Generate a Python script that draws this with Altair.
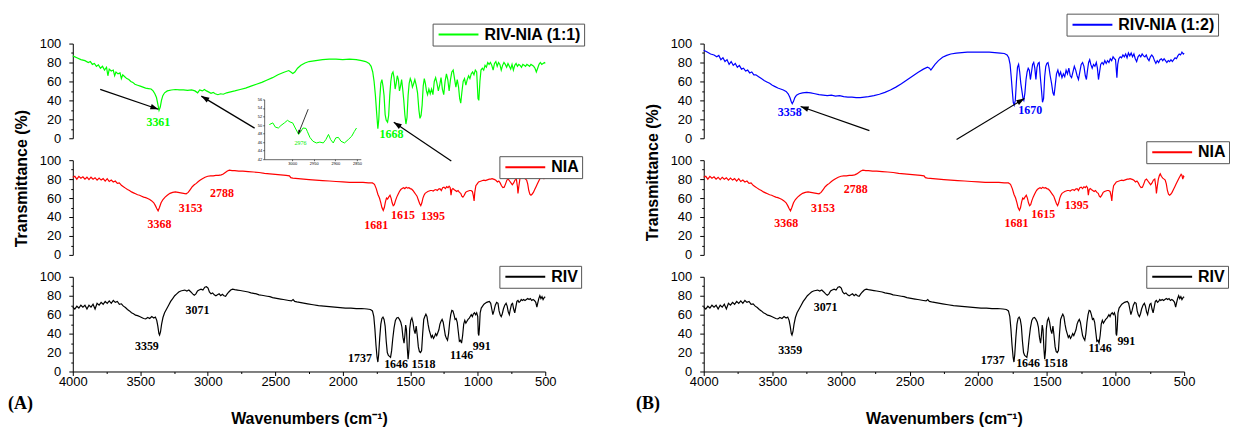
import math
import altair as alt
import pandas as pd

# ---------------- data (wavenumber cm-1, transmittance %) ----------------
RIV_NIA_11 = [
    (4000, 87), (3970, 85), (3940, 83), (3910, 82), (3885, 80), (3870, 81), (3855, 78), (3840, 79),
    (3825, 76), (3810, 77.5), (3795, 74), (3780, 76), (3765, 72), (3750, 75), (3740, 66), (3730, 73),
    (3715, 71), (3700, 72), (3690, 66), (3680, 70), (3665, 68), (3650, 69), (3640, 63), (3630, 67),
    (3615, 65), (3600, 63), (3585, 62), (3570, 60), (3555, 59), (3540, 57), (3520, 56), (3500, 55),
    (3480, 54), (3460, 53), (3440, 52.5), (3420, 52), (3405, 50), (3392, 47), (3380, 43), (3370, 36),
    (3361, 29.5), (3352, 33), (3343, 40), (3333, 45), (3320, 48), (3300, 50), (3270, 51), (3240, 51.5),
    (3210, 51), (3180, 51), (3150, 50.5), (3120, 51), (3095, 50), (3075, 48), (3060, 51), (3040, 50),
    (3025, 51.5), (3010, 50), (2995, 49), (2976, 47.5), (2960, 48.5), (2945, 47), (2925, 46), (2905, 47),
    (2885, 46.5), (2860, 48), (2830, 49), (2800, 50), (2760, 51.5), (2720, 53), (2680, 55), (2640, 57),
    (2600, 59), (2560, 61.5), (2520, 64), (2480, 67), (2440, 69.5), (2400, 71.5), (2385, 70), (2370, 68.5),
    (2355, 70), (2335, 74), (2310, 77), (2280, 79.5), (2250, 81), (2200, 82), (2150, 83), (2100, 83.5),
    (2050, 83.5), (2000, 83), (1950, 83.5), (1900, 83), (1860, 82), (1830, 81), (1805, 79), (1790, 76),
    (1778, 70), (1768, 60), (1758, 45), (1748, 25), (1740, 10), (1733, 20), (1726, 42), (1718, 58),
    (1710, 62), (1702, 55), (1694, 45), (1686, 25), (1678, 19), (1668, 17), (1660, 24), (1652, 45),
    (1644, 60), (1636, 68), (1628, 70), (1620, 64), (1612, 52), (1604, 58), (1596, 66), (1588, 62),
    (1580, 50), (1572, 55), (1564, 62), (1556, 52), (1548, 40), (1540, 25), (1532, 15), (1524, 22),
    (1516, 45), (1508, 58), (1500, 63), (1492, 60), (1484, 54), (1476, 57), (1466, 62), (1456, 56),
    (1446, 48), (1436, 30), (1428, 21), (1420, 24), (1412, 35), (1404, 55), (1396, 63), (1388, 58),
    (1380, 50), (1372, 46), (1362, 52), (1352, 47), (1342, 52), (1332, 46), (1322, 60), (1312, 64),
    (1302, 58), (1292, 50), (1282, 56), (1272, 64), (1262, 52), (1252, 46), (1242, 60), (1232, 68),
    (1222, 62), (1212, 50), (1202, 62), (1192, 70), (1182, 72), (1172, 63), (1162, 54), (1152, 62),
    (1142, 54), (1134, 42), (1126, 37), (1118, 48), (1108, 60), (1098, 63), (1088, 56), (1078, 62),
    (1068, 66), (1058, 63), (1048, 68), (1038, 70), (1028, 67), (1018, 72), (1008, 70), (998, 42),
    (992, 40), (984, 60), (976, 72), (966, 74), (956, 72), (946, 77), (936, 75), (926, 80), (916, 78),
    (906, 80), (896, 77), (886, 72), (876, 79), (866, 81), (856, 76), (846, 80), (836, 78), (826, 72),
    (816, 77), (806, 80), (796, 78), (786, 75), (776, 79), (766, 76), (756, 73), (746, 78), (736, 72),
    (726, 77), (716, 79), (706, 76), (696, 78), (686, 77), (676, 75), (666, 78), (656, 77), (646, 76),
    (636, 78), (626, 77), (616, 76), (606, 78), (596, 77), (586, 76), (576, 74), (566, 70), (556, 74),
    (546, 78), (536, 80), (526, 78), (516, 79), (506, 80), (500, 79),
]

RIV_NIA_12 = [
    (4000, 93), (3975, 91), (3950, 89), (3925, 88), (3905, 86), (3890, 87.5), (3875, 83), (3860, 85),
    (3845, 81), (3830, 83), (3815, 78), (3800, 81), (3785, 77), (3770, 79), (3755, 75), (3740, 77),
    (3725, 73), (3710, 74), (3695, 71), (3680, 72), (3665, 69), (3650, 70), (3635, 67), (3620, 67),
    (3600, 65), (3580, 63), (3560, 61), (3540, 59.5), (3520, 58), (3500, 56), (3480, 54.5), (3460, 53),
    (3440, 52), (3420, 51), (3400, 49.5), (3385, 47), (3372, 43), (3362, 38.5), (3355, 36.5), (3346, 39),
    (3336, 43), (3324, 45.5), (3305, 47), (3280, 48), (3250, 48.5), (3220, 48), (3190, 47), (3160, 46),
    (3130, 45.5), (3100, 45), (3070, 45.5), (3040, 44.5), (3010, 45), (2980, 44), (2950, 43.5), (2920, 43.5),
    (2890, 43), (2860, 43), (2830, 43.5), (2800, 44), (2760, 45), (2720, 46.5), (2680, 48.5), (2640, 51),
    (2600, 54), (2560, 57.5), (2520, 61.5), (2480, 65.5), (2440, 69.5), (2400, 73), (2370, 75), (2355, 74),
    (2345, 72), (2335, 74), (2315, 78), (2290, 82), (2260, 85.5), (2230, 87.5), (2200, 89), (2160, 90),
    (2120, 90.5), (2080, 91), (2040, 91), (2000, 91), (1960, 91), (1920, 91), (1880, 90.5), (1840, 90),
    (1810, 89.5), (1790, 88), (1778, 85), (1768, 78), (1760, 65), (1752, 50), (1745, 38), (1738, 35),
    (1730, 40), (1722, 60), (1714, 75), (1706, 78), (1698, 70), (1690, 58), (1682, 50), (1674, 42),
    (1668, 40), (1660, 48), (1652, 62), (1644, 70), (1636, 74), (1628, 72), (1620, 62), (1612, 70),
    (1604, 78), (1596, 80), (1588, 74), (1580, 62), (1572, 75), (1564, 79), (1556, 80), (1548, 65),
    (1540, 52), (1532, 38), (1524, 42), (1516, 65), (1508, 76), (1500, 79), (1492, 80), (1484, 74),
    (1476, 66), (1466, 58), (1456, 48), (1448, 45), (1440, 55), (1430, 68), (1420, 72), (1410, 66),
    (1400, 70), (1390, 64), (1380, 68), (1370, 65), (1360, 72), (1350, 68), (1340, 74), (1330, 66),
    (1320, 64), (1310, 70), (1300, 76), (1290, 72), (1280, 66), (1270, 62), (1260, 70), (1250, 78),
    (1240, 80), (1230, 76), (1220, 66), (1212, 62), (1204, 72), (1196, 80), (1188, 83), (1180, 78),
    (1170, 74), (1160, 78), (1150, 76), (1140, 80), (1132, 74), (1124, 62), (1116, 70), (1108, 78),
    (1098, 80), (1088, 78), (1078, 82), (1068, 79), (1058, 82), (1048, 80), (1038, 84), (1028, 82),
    (1018, 86), (1008, 84), (1000, 83), (994, 72), (990, 64), (984, 78), (976, 84), (966, 86), (956, 85),
    (946, 88), (936, 86), (926, 89), (916, 85), (906, 90), (896, 87), (886, 90), (876, 86), (866, 89),
    (856, 84), (846, 81), (836, 86), (826, 88), (816, 86), (806, 89), (796, 87), (786, 86), (776, 88),
    (766, 84), (756, 82), (746, 86), (736, 88), (726, 86), (716, 82), (706, 79), (696, 82), (686, 80),
    (676, 83), (666, 84), (656, 82), (646, 84), (636, 82), (626, 80), (616, 82), (606, 81), (596, 83),
    (586, 81), (576, 83), (566, 85), (556, 84), (546, 87), (536, 89), (526, 88), (516, 91), (506, 89),
    (500, 90),
]

NIA = [
    (4000, 82), (3985, 83), (3970, 80), (3955, 83), (3940, 81), (3925, 82.5), (3910, 80), (3895, 82),
    (3880, 79.5), (3865, 82), (3850, 80), (3835, 81.5), (3820, 79), (3805, 81), (3790, 79), (3775, 80.5),
    (3760, 78), (3745, 80.5), (3730, 77.5), (3715, 79), (3700, 77), (3685, 78), (3670, 75.5), (3655, 76),
    (3640, 73.5), (3625, 72), (3610, 70.5), (3595, 69), (3580, 68), (3565, 66.5), (3550, 65.5), (3535, 64.5),
    (3520, 63.5), (3505, 63), (3490, 62), (3475, 61), (3460, 60.5), (3445, 59.5), (3430, 58.5), (3415, 57),
    (3400, 55), (3388, 52), (3378, 49), (3368, 46.5), (3358, 50), (3346, 55), (3332, 58.5), (3316, 61),
    (3300, 63), (3280, 65), (3260, 66), (3240, 66.5), (3220, 66), (3200, 65.5), (3180, 65), (3160, 64.5),
    (3145, 66), (3130, 69), (3115, 72), (3100, 74), (3085, 75.5), (3070, 77.5), (3055, 79), (3040, 80.5),
    (3020, 82), (3000, 83), (2980, 83.5), (2960, 83.5), (2940, 84), (2920, 84), (2900, 84.5), (2885, 85.5),
    (2870, 87), (2855, 88.5), (2840, 89.5), (2820, 89), (2800, 89), (2770, 88.5), (2740, 88.5), (2700, 88),
    (2660, 87.5), (2620, 87), (2580, 86), (2540, 85.5), (2500, 85), (2460, 84.5), (2420, 84), (2395, 83.5),
    (2385, 81.5), (2370, 81), (2330, 80.5), (2290, 80), (2250, 79.5), (2200, 79), (2150, 78.5), (2100, 78),
    (2050, 77.5), (2000, 77), (1950, 76.5), (1900, 76.5), (1850, 76.5), (1810, 76), (1780, 76), (1765, 74.5),
    (1752, 70), (1740, 64), (1728, 60), (1718, 55), (1710, 50), (1700, 47), (1692, 50), (1684, 56),
    (1676, 60), (1668, 59), (1660, 61), (1650, 63), (1642, 60), (1634, 55), (1626, 52), (1618, 53),
    (1610, 57), (1600, 61), (1590, 64), (1580, 67), (1570, 69), (1560, 70), (1550, 71), (1540, 70),
    (1530, 71.5), (1520, 70.5), (1510, 71), (1500, 70), (1490, 69.5), (1480, 68), (1470, 66), (1460, 64),
    (1450, 62), (1440, 58), (1430, 54), (1422, 52), (1414, 55), (1406, 60), (1398, 63), (1390, 65),
    (1380, 66), (1370, 67), (1360, 67.5), (1350, 68), (1340, 68), (1330, 67.5), (1320, 68.5), (1310, 69),
    (1300, 68), (1290, 69.5), (1280, 70), (1270, 68), (1260, 71), (1250, 71.5), (1240, 70), (1230, 72),
    (1220, 71), (1212, 72.5), (1204, 71), (1198, 63), (1192, 69), (1184, 70), (1176, 69), (1166, 68),
    (1156, 67), (1146, 68), (1136, 66), (1126, 65), (1118, 62), (1110, 61), (1100, 63), (1090, 66),
    (1080, 67), (1070, 67.5), (1060, 68), (1050, 68), (1040, 67), (1032, 62), (1027, 57), (1022, 66),
    (1014, 73), (1004, 75), (994, 77), (984, 77.5), (974, 78), (964, 78.5), (954, 79), (944, 78.5),
    (934, 79), (924, 79.5), (914, 80), (904, 80), (894, 80.5), (884, 80), (874, 79.5), (864, 78.5),
    (854, 77), (844, 78), (834, 76), (824, 73), (814, 71), (804, 71.5), (794, 75), (784, 79), (774, 80),
    (764, 78), (754, 76), (744, 74), (734, 76), (724, 79), (714, 80), (706, 72), (702, 65), (696, 72),
    (688, 80), (680, 84), (674, 85.5), (666, 83), (656, 81), (646, 80), (638, 79), (630, 75), (622, 68),
    (614, 64), (606, 63), (598, 64), (588, 66), (578, 69), (568, 72), (558, 75), (548, 78), (538, 81),
    (530, 83), (522, 85), (516, 84), (510, 80), (504, 83), (500, 82),
]

RIV = [
    (4000, 68), (3985, 66), (3970, 69), (3955, 67), (3940, 70), (3925, 68), (3910, 70), (3895, 66),
    (3880, 70), (3865, 68), (3850, 71), (3835, 66), (3820, 72), (3805, 70), (3790, 73), (3775, 71),
    (3760, 74), (3745, 72), (3730, 74.5), (3715, 72), (3700, 75), (3685, 73), (3670, 74), (3655, 71),
    (3640, 71.5), (3625, 69), (3610, 67.5), (3595, 65.5), (3580, 64), (3565, 62), (3550, 61), (3535, 59.5),
    (3520, 59), (3505, 58), (3490, 57), (3475, 56), (3460, 55.5), (3445, 57), (3430, 56), (3415, 58),
    (3400, 56.5), (3388, 57.5), (3378, 54), (3370, 48), (3362, 40), (3357, 38.5), (3350, 42), (3342, 50),
    (3332, 57), (3320, 62), (3305, 66), (3290, 70), (3275, 74), (3260, 77), (3245, 80), (3230, 82),
    (3215, 84), (3200, 85), (3185, 85.5), (3170, 86), (3155, 85), (3140, 86), (3125, 84), (3112, 82),
    (3100, 80.5), (3088, 82), (3076, 85), (3064, 86), (3050, 87), (3036, 86), (3022, 89), (3010, 89.5),
    (2998, 88), (2988, 84), (2976, 82), (2964, 83), (2952, 81), (2940, 80), (2928, 81), (2916, 82),
    (2904, 80), (2892, 81.5), (2880, 80), (2868, 79.5), (2856, 82), (2844, 84), (2830, 86), (2816, 87),
    (2800, 86.5), (2780, 86), (2760, 85.5), (2740, 85), (2720, 84.5), (2700, 84), (2680, 83), (2660, 82.5),
    (2640, 82), (2620, 81), (2600, 80.5), (2580, 80), (2560, 79.5), (2540, 79), (2520, 78), (2500, 77.5),
    (2480, 77), (2460, 76.5), (2440, 76), (2420, 75.5), (2400, 75), (2380, 74.5), (2368, 76), (2356, 74),
    (2340, 73.5), (2300, 72.5), (2260, 71.5), (2220, 70.5), (2180, 69.5), (2140, 69), (2100, 68.5),
    (2060, 68), (2020, 67.5), (1980, 67), (1940, 67), (1900, 66.5), (1860, 66.5), (1820, 66), (1795, 65.5),
    (1780, 64), (1770, 58), (1762, 45), (1754, 28), (1746, 15), (1740, 10), (1734, 18), (1726, 36),
    (1718, 50), (1710, 56), (1702, 57.5), (1694, 55), (1686, 48), (1678, 32), (1670, 20), (1662, 17),
    (1654, 16), (1646, 15), (1638, 22), (1630, 34), (1620, 46), (1610, 54), (1600, 56.5), (1590, 57),
    (1580, 55), (1570, 52), (1562, 47), (1554, 36), (1546, 30), (1540, 38), (1534, 49), (1528, 44),
    (1522, 25), (1516, 13), (1510, 22), (1504, 45), (1496, 54), (1488, 56.5), (1480, 52), (1472, 44),
    (1464, 40), (1456, 48), (1448, 38), (1440, 26), (1432, 21), (1424, 20), (1416, 22), (1408, 40),
    (1400, 55), (1392, 58), (1384, 60.5), (1376, 58), (1368, 50), (1360, 44), (1352, 40), (1344, 36),
    (1336, 38), (1328, 35), (1320, 37), (1312, 40), (1304, 38), (1296, 41), (1288, 44), (1280, 50),
    (1272, 53), (1264, 55), (1256, 52), (1248, 45), (1240, 38), (1232, 35), (1224, 33), (1216, 40),
    (1208, 52), (1200, 60), (1192, 64.5), (1184, 64), (1176, 60), (1168, 55), (1160, 56), (1152, 52),
    (1144, 42), (1136, 32), (1128, 33), (1120, 30), (1112, 38), (1104, 50), (1096, 54), (1088, 51),
    (1080, 53), (1072, 55), (1064, 56), (1056, 58), (1048, 60), (1040, 58), (1032, 61), (1024, 62),
    (1016, 60), (1008, 62), (1000, 58), (996, 40), (992, 38), (988, 45), (982, 62), (974, 67), (964, 69),
    (954, 71), (944, 72), (934, 73), (924, 73.5), (914, 74), (904, 72), (896, 66), (888, 60), (880, 64),
    (870, 70), (860, 73), (850, 72), (842, 64), (834, 60), (826, 58), (818, 61), (810, 66), (800, 70),
    (790, 72), (782, 69), (774, 63), (766, 60), (758, 66), (750, 71), (742, 72), (734, 66), (726, 62),
    (718, 68), (710, 74), (702, 75), (694, 73), (686, 74), (678, 76), (670, 75), (660, 76), (650, 75),
    (640, 76), (630, 77), (620, 76), (610, 77), (600, 75), (590, 76), (580, 75), (570, 73), (562, 68),
    (556, 72), (548, 77), (540, 80), (532, 77), (524, 79), (516, 76), (508, 78), (500, 79),
]

# inset of panel A (zoom on 3065-2841 cm-1)
INSET_11 = [
    (3053, 50.1), (3045, 50.5), (3039, 49.5), (3032, 49.3), (3026, 49.9), (3018, 50.5), (3011, 51.1),
    (3005, 50.7), (2999, 50.5), (2993, 49.3), (2985, 47.8), (2980, 48.5), (2975, 49.3), (2968, 49.2),
    (2965, 48.5), (2959, 47.1), (2952, 46.2), (2944, 45.8), (2936, 46.0), (2928, 45.8), (2922, 46.6),
    (2916, 47.8), (2911, 46.6), (2905, 45.8), (2899, 47.0), (2893, 47.1), (2887, 46.2), (2879, 45.8),
    (2870, 46.6), (2862, 47.4), (2856, 48.5), (2851, 49.3),
]

# peak labels: (text, wavenumber, transmittance position)
LAB_A_11 = [("3361", 3366, 17), ("1668", 1639, 5)]
LAB_B_12 = [("3358", 3374, 28), ("1670", 1621, 29.7)]
LAB_A_NIA = [("3368", 3358, 32.7), ("3153", 3127, 49), ("2788", 2895, 65.8),
             ("1681", 1752, 32), ("1615", 1554, 41.8), ("1395", 1332, 41)]
LAB_B_NIA = [("3368", 3399, 34), ("3153", 3131, 50), ("2788", 2893, 70),
             ("1681", 1721, 34), ("1615", 1527, 42.8), ("1395", 1283, 53)]
LAB_A_RIV = [("3359", 3451, 26.5), ("3071", 3076, 64.7), ("1737", 1873, 14.5), ("1646", 1605, 8),
             ("1518", 1402, 7.4), ("1146", 1120, 17.7), ("991", 971, 26.9)]
LAB_B_RIV = [("3359", 3370, 22.8), ("3071", 3112, 67.7), ("1737", 1895, 12.3), ("1646", 1637, 9),
             ("1518", 1436, 8.8), ("1146", 1113, 25), ("991", 921, 32.6)]
INSET_LAB = [("2976", 2981, 45.7)]

# arrows: (tail wn, tail T, head wn, head T)
ARROWS_A = [(3797, 51.6, 3366, 30.6), (2653, 10.7, 3048, 44.5), (1196, -24, 1622, 17)]
ARROWS_B = [(2793, 8, 3294, 33.6), (2158, -1.4, 1664, 42)]
INSET_ARROW = [(2963, 53.7, 2986, 47.9)]

X_TICKS = list(range(4000, 499, -250))
Y_TICKS = list(range(0, 101, 10))
INSET_X_TICKS = [3000, 2950, 2900, 2850]
INSET_Y_TICKS = list(range(42, 57, 2))

# ---------------- styling ----------------
SANS = "Liberation Sans"
SERIF = "Liberation Serif"
H = 95
WA, WB = 474, 482
XDOM = [4000, 500]
YDOM = [0, 100]
HEAD = "M0,0L-2,-0.7L-2,0.7Z"
IN_XDOM, IN_XRANGE = [3065, 2841], [192, 289]
IN_YDOM, IN_YRANGE = [42, 56], [116, 56]


def x_axis(show):
    if not show:
        return None
    return alt.Axis(values=X_TICKS, format="d",
                    labelExpr="datum.value % 500 === 0 ? datum.label : ''",
                    tickSize={"condition": {"test": "datum.value % 500 === 0", "value": 4}, "value": 2},
                    labelPadding=0, labelFlush=False, labelOverlap=False, labelFontSize=13,
                    title="Wavenumbers (cm⁻¹)", titleFontSize=16, titleFontWeight="bold",
                    titlePadding=22, grid=False)


def y_axis(title=None, title_y=None):
    kw = dict(values=Y_TICKS, format="d",
              labelExpr="datum.value % 20 === 0 ? datum.label : ''",
              tickSize={"condition": {"test": "datum.value % 20 === 0", "value": 4}, "value": 2},
              labelPadding=8, labelFlush=False, labelOverlap=False, labelFontSize=13, grid=False)
    if title:
        kw.update(title=title, titleY=title_y, titleFontSize=16, titleFontWeight="bold", titlePadding=10)
    else:
        kw.update(title=None)
    return alt.Axis(**kw)


def legend(lx, ly):
    return alt.Legend(orient="none", legendX=lx, legendY=ly, title=None,
                      symbolType="M-1,0H7", symbolSize=100, symbolStrokeWidth=2,
                      labelFont=SANS, labelFontSize=16, labelFontWeight="bold", labelColor="black",
                      labelOffset=33, strokeColor="#555", fillColor="white", padding=3)


def head_angle(w1, t1, w2, t2, kx, ky):
    dx = (w1 - w2) * kx
    dy = (t1 - t2) * ky
    return math.degrees(math.atan2(dy, dx)) % 360


def arrow_layers(arrows, X, Y, kx, ky):
    adf = pd.DataFrame(arrows, columns=["wn", "t", "wn2", "t2"])
    adf["ang"] = [head_angle(a[0], a[1], a[2], a[3], kx, ky) for a in arrows]
    rule = alt.Chart(adf).mark_rule(color="black", strokeWidth=1.2, clip=False).encode(
        x=X("wn"), y=Y("t"), x2="wn2:Q", y2="t2:Q")
    head = alt.Chart(adf).mark_point(shape=HEAD, filled=True, size=64, color="black",
                                     opacity=1, strokeWidth=0, clip=False).encode(
        x=X("wn2"), y=Y("t2"), angle=alt.Angle("ang:Q", scale=None))
    return [rule, head]


def subplot(series, name, color, W, labels, leg, show_x=False, ytitle=None, title_y=None,
            arrows=None, tag=None):
    xa = x_axis(show_x)
    ya = y_axis(ytitle, title_y)
    xs = alt.Scale(domain=XDOM, nice=False, zero=False)
    ys = alt.Scale(domain=YDOM, nice=False, zero=False)

    def X(f):
        return alt.X(f, type="quantitative", scale=xs, axis=xa)

    def Y(f):
        return alt.Y(f, type="quantitative", scale=ys, axis=ya)

    df = pd.DataFrame(series, columns=["wn", "t"])
    df["i"] = range(len(df))
    df["s"] = name
    layers = [alt.Chart(df).mark_line(strokeWidth=1.2, clip=False).encode(
        x=X("wn"), y=Y("t"), order="i:Q",
        color=alt.Color("s:N", scale=alt.Scale(domain=[name], range=[color]), legend=legend(*leg)))]
    ldf = pd.DataFrame(labels, columns=["lab", "wn", "t"])
    layers.append(alt.Chart(ldf).mark_text(font=SERIF, fontWeight="bold", fontSize=12, color=color,
                                           clip=False).encode(x=X("wn"), y=Y("t"), text="lab:N"))
    if arrows:
        layers += arrow_layers(arrows, X, Y, W / 3500.0, H / 100.0)
    if tag:
        tdf = pd.DataFrame({"lab": [tag[0]]})
        layers.append(alt.Chart(tdf).mark_text(font=SERIF, fontWeight="bold", fontSize=18,
                                               align="left", baseline="middle", color="black").encode(
            x=alt.value(tag[1]), y=alt.value(H + 33), text="lab:N"))
    return alt.layer(*layers)


def inset_layer():
    xs = alt.Scale(domain=IN_XDOM, range=IN_XRANGE, nice=False, zero=False)
    ys = alt.Scale(domain=IN_YDOM, range=IN_YRANGE, nice=False, zero=False)
    xa = alt.Axis(orient="bottom", offset=IN_YRANGE[0] - H, values=INSET_X_TICKS, format="d",
                  labelFontSize=4, tickSize=1.5, labelPadding=0.5, labelFlush=False, labelOverlap=False,
                  domainWidth=0.6, tickWidth=0.6, title=None, grid=False)
    ya = alt.Axis(orient="left", offset=-IN_XRANGE[0], values=INSET_Y_TICKS, format="d",
                  labelFontSize=4, tickSize=1.5, labelPadding=1, labelFlush=False, labelOverlap=False,
                  domainWidth=0.6, tickWidth=0.6, title=None, grid=False)

    def X(f):
        return alt.X(f, type="quantitative", scale=xs, axis=xa)

    def Y(f):
        return alt.Y(f, type="quantitative", scale=ys, axis=ya)

    df = pd.DataFrame(INSET_11, columns=["wn", "t"])
    df["i"] = range(len(df))
    line = alt.Chart(df).mark_line(color="#00ff00", strokeWidth=1, clip=False).encode(
        x=X("wn"), y=Y("t"), order="i:Q")
    ldf = pd.DataFrame(INSET_LAB, columns=["lab", "wn", "t"])
    txt = alt.Chart(ldf).mark_text(font=SERIF, fontSize=6, color="#00ee00", clip=False).encode(
        x=X("wn"), y=Y("t"), text="lab:N")
    kx = (IN_XRANGE[1] - IN_XRANGE[0]) / (IN_XDOM[0] - IN_XDOM[1])
    ky = (IN_YRANGE[0] - IN_YRANGE[1]) / (IN_YDOM[1] - IN_YDOM[0])
    adf = pd.DataFrame(INSET_ARROW, columns=["wn", "t", "wn2", "t2"])
    adf["ang"] = [head_angle(a[0], a[1], a[2], a[3], kx, ky) for a in INSET_ARROW]
    rule = alt.Chart(adf).mark_rule(color="black", strokeWidth=0.8, clip=False).encode(
        x=X("wn"), y=Y("t"), x2="wn2:Q", y2="t2:Q")
    head = alt.Chart(adf).mark_point(shape=HEAD, filled=True, size=16, color="black",
                                     opacity=1, strokeWidth=0, clip=False).encode(
        x=X("wn2"), y=Y("t2"), angle=alt.Angle("ang:Q", scale=None))
    return alt.layer(line, txt, rule, head)


GREEN, BLUE, RED, BLACK = "#00ff00", "#0000ff", "#ff0000", "#000000"

topA = alt.layer(
    subplot(RIV_NIA_11, "RIV-NIA (1:1)", GREEN, WA, LAB_A_11, (361, -20), arrows=ARROWS_A),
    inset_layer(),
).resolve_scale(x="independent", y="independent").properties(width=WA, height=H)
midA = subplot(NIA, "NIA", RED, WA, LAB_A_NIA, (428, -4), ytitle="Transmittance (%)",
               title_y=18).properties(width=WA, height=H)
botA = subplot(RIV, "RIV", BLACK, WA, LAB_A_RIV, (428, -11), show_x=True,
               tag=("(A)", -65)).properties(width=WA, height=H)

topB = subplot(RIV_NIA_12, "RIV-NIA (1:2)", BLUE, WB, LAB_B_12, (364, -30),
               arrows=ARROWS_B).properties(width=WB, height=H)
midB = subplot(NIA, "NIA", RED, WB, LAB_B_NIA, (444, -19), ytitle="Transmittance (%)",
               title_y=12).properties(width=WB, height=H)
botB = subplot(RIV, "RIV", BLACK, WB, LAB_B_RIV, (444, -11), show_x=True,
               tag=("(B)", -68)).properties(width=WB, height=H)

panelA = alt.vconcat(topA, midA, botA, spacing=22, bounds="flush").resolve_scale(
    x="independent", y="independent", color="independent")
panelB = alt.vconcat(topB, midB, botB, spacing=22, bounds="flush").resolve_scale(
    x="independent", y="independent", color="independent")

chart = alt.hconcat(panelA, panelB, spacing=51).resolve_scale(
    x="independent", y="independent", color="independent"
).properties(
    padding={"left": 0, "top": 4, "right": 0, "bottom": 0}
).configure_axis(
    domainColor="black", tickColor="black", labelColor="black", titleColor="black",
    labelFont=SANS, titleFont=SANS, domainWidth=1, tickWidth=1
).configure_view(strokeWidth=0)

chart.save("out.html", embed_options={"renderer": "svg", "actions": False})
